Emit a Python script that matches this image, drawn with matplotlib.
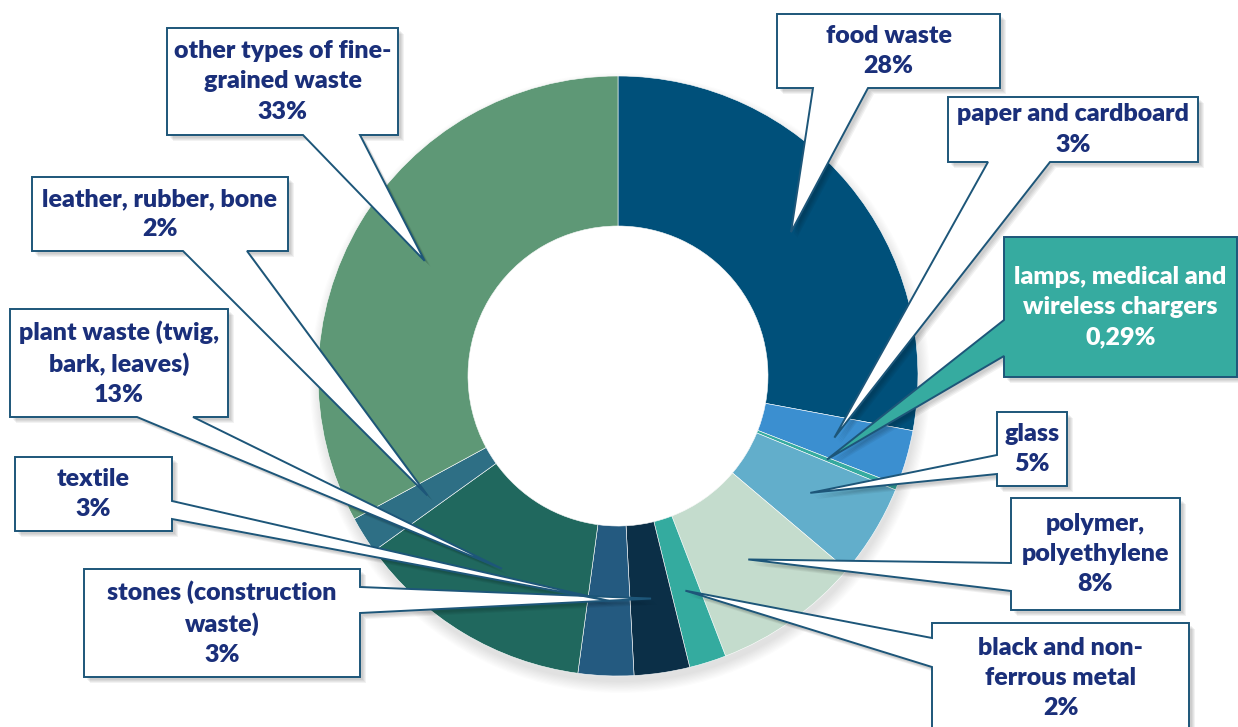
import matplotlib
matplotlib.use("Agg")
import matplotlib.pyplot as plt
from matplotlib.patches import Polygon, Circle
import numpy as np

# waste composition, clockwise from 12 o'clock
categories = ["food waste", "paper and cardboard", "lamps, medical and\nwireless chargers",
              "glass", "polymer,\npolyethylene", "black and non-\nferrous metal",
              "stones (construction\nwaste)", "textile", "plant waste (twig,\nbark, leaves)",
              "leather, rubber, bone", "other types of fine-\ngrained waste"]
shares = [28, 3, 0.29, 5, 8, 2, 3, 3, 13, 2, 33]
share_labels = ["28%", "3%", "0,29%", "5%", "8%", "2%", "3%", "3%", "13%", "2%", "33%"]
colors = ["#00507a", "#3b8fd0", "#36aba0", "#62aecb", "#c4dccd", "#34ab9f",
          "#0b2f47", "#245a80", "#20685e", "#2e6f85", "#5e9876"]

W, H = 1238, 727
CX, CY, R = 618, 376, 300

# callout boxes in pixel coords: (x0, y0, x1, y1), tail side, tail base (a, b)
boxes = [
    ((777, 14, 1000, 88), "bottom", (813, 868)),
    ((948, 97, 1198, 162), "bottom", (988, 1050)),
    ((1004, 237, 1237, 377), "left", (320, 356)),
    ((997, 412, 1067, 486), "left", (455, 474)),
    ((1011, 498, 1180, 610), "left", (563, 591)),
    ((932, 623, 1189, 733), "left", (638, 667)),
    ((84, 569, 360, 677), "right", (587, 613)),
    ((15, 457, 172, 531), "right", (501, 519)),
    ((10, 309, 228, 417), "bottom", (137, 193)),
    ((32, 177, 288, 251), "bottom", (183, 247)),
    ((167, 28, 398, 135), "bottom", (303, 360)),
]

plt.rcParams["font.family"] = ["Lato", "DejaVu Sans"]

fig = plt.figure(figsize=(W / 100, H / 100), dpi=100)
ax = fig.add_axes([0, 0, 1, 1])

def py(y):
    return H - y

# soft shadow under the ring
for k in range(10):
    ax.add_patch(Circle((CX + 2, py(CY) - 7), R + 10 - k * 1.2, color="black",
                        alpha=0.012, lw=0, zorder=0))
ax.add_patch(Circle((CX, py(CY)), R / 2, color="white", lw=0, zorder=0.5))

wedges, _ = ax.pie(shares, colors=colors, startangle=90, counterclock=False,
                   radius=R, center=(CX, py(CY)),
                   wedgeprops=dict(width=R / 2, edgecolor="white", linewidth=0.4))
for w in wedges:
    w.set_zorder(1)

edge = "#1d5679"
navy = "#1a2f7a"
for i, w in enumerate(wedges):
    (x0, y0, x1, y1), side, (a, b) = boxes[i]
    mid = np.deg2rad((w.theta1 + w.theta2) / 2)
    apex = (CX + 0.75 * R * np.cos(mid), py(CY) + 0.75 * R * np.sin(mid))
    if side == "bottom":
        pts = [(x0, y0), (x1, y0), (x1, y1), (b, y1), None, (a, y1), (x0, y1)]
    elif side == "left":
        pts = [(x0, y0), (x1, y0), (x1, y1), (x0, y1), (x0, b), None, (x0, a)]
    else:
        pts = [(x0, y0), (x1, y0), (x1, a), None, (x1, b), (x1, y1), (x0, y1)]
    verts = [apex if p is None else (p[0], py(p[1])) for p in pts]
    lamp = i == 2
    face = colors[2] if lamp else "white"
    # box shadow
    for k in range(4):
        sh = [(vx + 3 + k, vy - 3 - k) for vx, vy in verts]
        ax.add_patch(Polygon(sh, closed=True, color="black", alpha=0.05, lw=0,
                             zorder=2 + i * 0.01))
    ax.add_patch(Polygon(verts, closed=True, facecolor=face, edgecolor=edge,
                         linewidth=1.4, zorder=3 + i * 0.01, joinstyle="miter"))
    ax.text((x0 + x1) / 2, py((y0 + y1) / 2), categories[i] + "\n" + share_labels[i],
            ha="center", va="center", fontsize=18, fontweight="heavy",
            color="white" if lamp else navy, linespacing=1.45, zorder=5)

ax.set_xlim(0, W)
ax.set_ylim(0, H)
ax.set_aspect("auto")
ax.axis("off")

fig.savefig("out.png", dpi=100)
